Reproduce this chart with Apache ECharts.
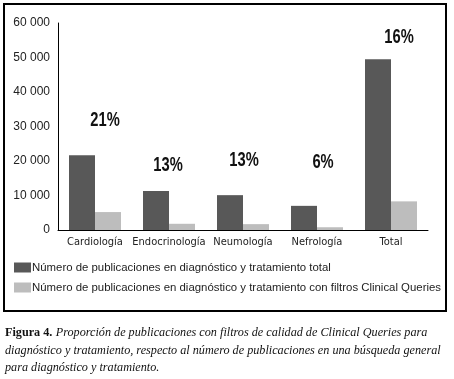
<!DOCTYPE html>
<html>
<head>
<meta charset="utf-8">
<script src="https://cdn.jsdelivr.net/npm/echarts@6/dist/echarts.min.js"></script>
<style>
  html, body { margin: 0; padding: 0; background: #fff; }
  #chart { width: 454px; height: 379px; }
</style>
</head>
<body>
<div id="chart"></div>
<script>
// datos
const categorias = ['Cardiología', 'Endocrinología', 'Neumología', 'Nefrología', 'Total']
const totalPub = [21700, 11300, 10100, 7000, 49500]
const filtrosPub = [5200, 1800, 1700, 800, 8300]
const porcentajes = ['21%', '13%', '13%', '6%', '16%']
// altura (en unidades del eje) donde va cada etiqueta de porcentaje
const alturaPct = [31900, 18800, 20300, 19700, 56000]
const yTicks = [0, 10000, 20000, 30000, 40000, 50000, 60000]

const serieTotal = 'Número de publicaciones en diagnóstico y tratamiento total'
const serieFiltros = 'Número de publicaciones en diagnóstico y tratamiento con filtros Clinical Queries'

const narrow = '"DejaVu Sans Condensed", "Liberation Sans Narrow", "Arial Narrow", sans-serif'
const sans = '"Liberation Sans", Arial, sans-serif'
const serif = '"Liberation Serif", "Times New Roman", serif'

// desplazamiento horizontal (px) de cada etiqueta respecto al centro de la categoria
const pctDx = [10, -1, 1, 6, 8]

const myChart = echarts.init(document.getElementById('chart'))

let option = {
  animation: false,
  backgroundColor: '#fff',
  grid: {
    left: 58,
    right: 26,
    top: 23,
    bottom: 149
  },
  legend: {
    orient: 'vertical',
    left: 14,
    top: 262,
    padding: 0,
    itemWidth: 17,
    itemHeight: 10,
    itemGap: 9,
    icon: 'rect',
    textStyle: {
      color: '#222',
      fontSize: 11.4,
      fontFamily: sans,
      padding: [0, 0, 0, -4]
    },
    data: [serieTotal, serieFiltros]
  },
  xAxis: {
    type: 'category',
    data: categorias,
    axisLine: { lineStyle: { color: '#000', width: 1 } },
    axisTick: { show: false },
    axisLabel: {
      color: '#222',
      fontSize: 11,
      fontFamily: narrow,
      margin: 7,
      interval: 0
    }
  },
  yAxis: {
    type: 'value',
    min: yTicks[0],
    max: yTicks[yTicks.length - 1],
    interval: 10000,
    axisLine: { show: true, lineStyle: { color: '#000', width: 1 } },
    axisTick: { show: false },
    splitLine: { show: false },
    axisLabel: {
      color: '#222',
      fontSize: 12,
      fontFamily: sans,
      margin: 8,
      formatter(val) {
        return String(val).replace(/\B(?=(\d{3})+(?!\d))/g, ' ')
      }
    }
  },
  series: [
    {
      name: serieTotal,
      type: 'bar',
      barWidth: 26,
      barGap: '0%',
      itemStyle: { color: '#585858' },
      data: totalPub
    },
    {
      name: serieFiltros,
      type: 'bar',
      barWidth: 26,
      itemStyle: { color: '#bdbdbd' },
      data: filtrosPub
    }
  ]
}

myChart.setOption(option)

// etiquetas de porcentaje: posicion sacada de las escalas del grafico
const pctTexts = porcentajes.map((txt, i) => {
  const [px, py] = myChart.convertToPixel({ gridIndex: 0 }, [i, alturaPct[i]])
  return {
    type: 'text',
    x: px + pctDx[i],
    y: py,
    scaleX: 0.7,
    silent: true,
    style: {
      text: txt,
      fill: '#111',
      font: 'bold 21px ' + sans,
      align: 'center',
      verticalAlign: 'middle'
    }
  }
})

myChart.setOption({
  graphic: [
    {
      type: 'rect',
      shape: { x: 4, y: 4, width: 442, height: 307 },
      style: { fill: 'none', stroke: '#000', lineWidth: 2 },
      silent: true
    },
    {
      type: 'text',
      left: 5,
      top: 327,
      silent: true,
      style: {
        text: '{b|Figura 4.} {i|Proporción de publicaciones con filtros de calidad de Clinical Queries para}\n' +
          '{i|diagnóstico y tratamiento, respecto al número de publicaciones en una búsqueda general}\n' +
          '{i|para diagnóstico y tratamiento.}',
        fill: '#111',
        rich: {
          b: { fontFamily: serif, fontWeight: 'bold', fontSize: 12.2, lineHeight: 17.5 },
          i: { fontFamily: serif, fontStyle: 'italic', fontSize: 12.2, lineHeight: 17.5 }
        }
      }
    },
    ...pctTexts
  ]
})

window.addEventListener('resize', () => {
  myChart && myChart.resize()
})
</script>
</body>
</html>
